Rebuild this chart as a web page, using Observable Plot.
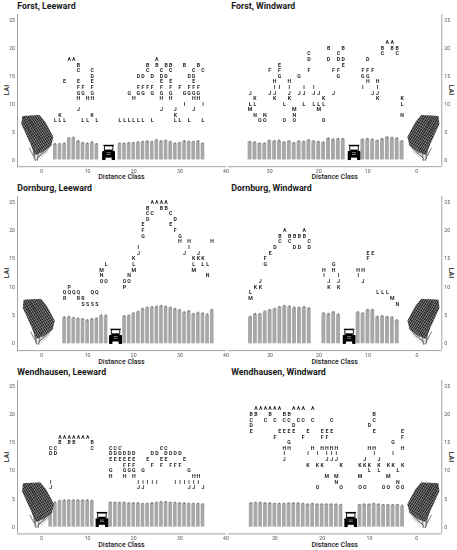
<!DOCTYPE html>
<html><head><meta charset="utf-8">
<script src="https://cdn.jsdelivr.net/npm/d3@7"></script>
<script src="https://cdn.jsdelivr.net/npm/@observablehq/plot@0.6"></script>
<style>
html,body{margin:0;padding:0;background:#fff}
body{width:457px;height:550px;overflow:hidden;position:relative;font-family:Roboto,sans-serif}
.abs{position:absolute;filter:grayscale(1)}
.title{position:absolute;font-weight:700;font-size:8.8px;color:#1a1a1a;white-space:nowrap;transform:translateY(-50%)}
.xl{position:absolute;font-size:7px;font-weight:500;color:#1a1a1a;white-space:nowrap;transform:translate(-50%,-50%)}
.yl{position:absolute;font-size:7px;font-weight:500;color:#1a1a1a;white-space:nowrap}
</style>
</head><body>
<script>
// ---------- data ----------
const titles = ["Forst, Leeward","Forst, Windward","Dornburg, Leeward","Dornburg, Windward","Wendhausen, Leeward","Wendhausen, Windward"];
const xTicksLee = [0,10,20,30,40];
const xTicksWind = [0,10,20,30];
const yTicks = [0,5,10,15,20,25];

// Forst, Leeward
const forstLeeDist = [3,4,5,6,7,8,9,10,11,12,17,18,19,20,21,22,23,24,25,26,27,28,29,30,31,32,33,34,35];
const forstLeeLAI = [2.8,2.8,2.9,3.8,3.9,3.3,3.0,2.9,3.1,2.8, 2.9,2.9,3.0,3.0,3.1,3.2,3.3,3.2,3.5,3.3,3.4,3.2,2.9,3.0,3.3,3.2,3.2,3.3,2.9];
const forstLeeSE = [0.12,0.13,0.12,0.2,0.18,0.17,0.14,0.13,0.16,0.12, 0.12,0.13,0.12,0.13,0.14,0.13,0.15,0.14,0.17,0.14,0.15,0.14,0.13,0.14,0.16,0.14,0.14,0.15,0.13];
const forstLeeLetters = ["L","KL","EL","A","A","BCEFGHJ","FGL","HL","CDEFGHK","L", "L","L","GL","HL","DFGL","DFGL","BCF","DFGL","AB","CDEFGHJ","BD","BCEFGH","JKL","FL","BGI","DFGL","CDEFGHJ","BFGH","CIL"];

// Forst, Windward
const forstWindDist = [3,4,5,6,7,8,9,10,11,15,16,17,18,19,20,21,22,23,24,25,26,27,28,29,30,31,32,33,34];
const forstWindLAI = [3.3,3.8,3.9,4.0,3.7,3.4,3.6,3.7,3.6, 3.7,3.7,3.6,3.8,3.1,3.2,3.3,3.5,3.2,3.3,3.0,3.3,3.1,3.4,3.3,3.4,2.9,2.9,3.1,3.2];
const forstWindSE = [0.14,0.15,0.16,0.15,0.13,0.14,0.15,0.14,0.15, 0.15,0.14,0.15,0.16,0.13,0.14,0.13,0.14,0.15,0.14,0.13,0.14,0.13,0.15,0.14,0.15,0.12,0.13,0.14,0.13];
const forstWindLetters = ["KLN","BC","AB","A","BC","HIJK","FJ","DFGH","FGI", "BDE","CDFG","FJ","BD","KLO","JLM","IJL","CDF","IJL","GJ","MNO","HIJK","LO","EFGI","HIJK","FJ","NO","O","KLN","JLM"];

// Dornburg, Leeward
const dornLeeDist = [5,6,7,8,9,10,11,12,13,14,18,19,20,21,22,23,24,25,26,27,28,29,30,31,32,33,34,35,36,37];
const dornLeeLAI = [4.6,4.7,4.5,4.4,4.3,4.1,4.3,4.4,4.9,4.9, 4.8,4.9,5.3,5.6,6.1,6.3,6.4,6.5,6.6,6.5,6.3,6.1,5.9,5.5,5.7,5.2,5.4,5.3,5.1,5.9];
const dornLeeSE = [0.16,0.17,0.15,0.15,0.14,0.15,0.14,0.15,0.2,0.2, 0.17,0.16,0.16,0.17,0.18,0.17,0.18,0.17,0.18,0.17,0.17,0.18,0.17,0.16,0.17,0.16,0.17,0.16,0.16,0.2];
const dornLeeLetters = ["QR","PQ","Q","QR","RS","S","QS","QS","MNO","LO", "OP","NO","KLM","IJ","EFG","BCD","AC","A","AB","AB","CE","DF","GH","J","HI","KLM","JK","KL","LN","H"];

// Dornburg, Windward
const dornWindDist = [4,5,6,7,8,9,10,11,12,16,17,18,19,22,23,24,25,26,27,28,29,30,31,32,33,34];
const dornWindLAI = [4.1,4.6,4.7,4.8,4.7,5.9,5.9,5.3,5.5, 5.1,5.5,5.2,5.3, 6.2,6.4,6.3,6.3,6.5,6.6,6.4,6.1,5.9,5.6,5.2,5.2,4.7];
const dornWindSE = [0.15,0.16,0.16,0.17,0.16,0.18,0.18,0.17,0.17, 0.17,0.18,0.17,0.17, 0.18,0.18,0.17,0.18,0.17,0.18,0.18,0.17,0.17,0.18,0.16,0.16,0.16];
const dornWindLetters = ["N","M","L","L","L","E","EF","HJ","HI", "IJK","GH","JK","HI", "CD","AB","BD","BD","BC","A","BC","D","E","FG","JK","K","LM"];

// Wendhausen, Leeward
const wendLeeDist = [2,3,4,5,6,7,8,9,10,11,15,16,17,18,19,20,21,22,23,24,25,26,27,28,29,30,31,32,33,34,35];
const wendLeeLAI = [3.6,4.3,4.6,4.7,4.7,4.7,4.7,4.7,4.7,4.6, 4.3,4.3,4.3,4.3,4.2,4.2,4.2,4.1,4.1,4.2,4.3,4.4,4.4,4.3,4.3,4.2,4.2,4.1,4.1,4.1,4.0];
const wendLeeSE = [0.14,0.15,0.14,0.13,0.13,0.13,0.14,0.13,0.13,0.14, 0.13,0.12,0.12,0.13,0.12,0.12,0.13,0.12,0.12,0.13,0.12,0.13,0.13,0.12,0.13,0.12,0.13,0.12,0.12,0.13,0.14];
const wendLeeLetters = ["CDIJ","CD","AB","A","AB","AB","A","A","A","BC", "CDEGH","CDE","CDE","DEFGH","DEFG","DEFGH","IJ","GIJ","EI","DFI","DI","CEF","CDE","DF","DFI","DFI","EI","GIJ","HIJ","HI","J"];

// Wendhausen, Windward
const wendWindDist = [3,4,5,6,7,8,9,10,11,12,16,17,18,19,20,21,22,23,24,25,26,27,28,29,30,31,32,33,34,35];
const wendWindLAI = [3.7,3.9,3.9,3.9,3.9,4.0,4.1,4.0,4.0,3.9, 3.9,4.0,4.0,4.0,4.0,4.0,4.1,4.0,4.1,4.2,4.2,4.2,4.1,4.1,4.1,4.2,4.2,4.3,4.3,4.2];
const wendWindSE = [0.2,0.12,0.12,0.12,0.11,0.12,0.12,0.11,0.12,0.12, 0.12,0.11,0.12,0.12,0.11,0.12,0.12,0.11,0.12,0.12,0.12,0.11,0.12,0.12,0.11,0.12,0.12,0.11,0.12,0.12];
const wendWindLetters = ["EFHKO","LNO","GIK","KMO","O","JKL","BCEHI","DHKL","JKO","KMO", "KO","HIJMN","CEHIJ","EFHIJM","EFHK","IKO","ACH","EIK","ACF","AC","ADE","BCEGH","BCEHIJ","AE","ACF","AB","AC","A","AB","BCDE"];

// LAI level of letter "A" in each panel
const letterTopLevel = [18, 21, 25, 20, 16, 21];
// pictogram anchor positions (distance class)
const treeX = [-0.9, -1.35, -0.6, -1.35, -0.75, -1.4];
const tractorX = [14.55, 12.8, 16.05, 13.85, 13.1, 13.95];

// ---------- pictograms ----------
function treeSvg(mirror){
  const canopy = "M2 1 L19 0 L25 7 L33 22 L31 30 L23 37 L15 40 L11 31 L6 20 L1 9 Z";
  let hatch = "";
  for (let t = -40; t < 60; t += 2.3) hatch += `M${t} 0 L${t + 30} 46 `;
  let hatch2 = "";
  for (let t = 0; t < 90; t += 3.1) hatch2 += `M0 ${t} L34 ${t - 20} `;
  return `<svg xmlns="http://www.w3.org/2000/svg" viewBox="0 0 34 46"><defs><clipPath id="c"><path d="${canopy}"/></clipPath></defs>
<g ${mirror ? 'transform="translate(34,0) scale(-1,1)"' : ''}>
<path d="${canopy}" fill="#1c1c1c"/>
<g clip-path="url(#c)" fill="none"><path d="${hatch}" stroke="#fff" stroke-width="0.4"/><path d="${hatch2}" stroke="#fff" stroke-width="0.25"/></g>
<g stroke="#2a2a2a" stroke-width="0.6" fill="none" stroke-linecap="round"><path d="M15 46 L14 38 L11 30 M17 46 L18 37 L22 32 M16 45 L20 40 L27 33 M14 44 L13 36 M18 42 L25 37 L31 30 M13 41 L9 33 M3 3 L12 22 M8 2 L20 24"/></g>
<g stroke="#888" stroke-width="0.4" fill="none"><path d="M15 43 L23 35 M16 40 L26 32 M12 38 L17 31 M19 44 L28 36"/></g>
</g></svg>`;
}
const tractorSvg = `<svg xmlns="http://www.w3.org/2000/svg" viewBox="0 0 26 31">
<rect x="2.5" y="0" width="21" height="2.8" fill="#000"/>
<rect x="4.6" y="2.6" width="16.8" height="9" fill="none" stroke="#000" stroke-width="1.8"/>
<rect x="6" y="10" width="14" height="16" fill="#000"/>
<rect x="0" y="13" width="7" height="18" rx="2" fill="#000"/>
<rect x="19" y="13" width="7" height="18" rx="2" fill="#000"/>
<rect x="9" y="16" width="8" height="0.9" fill="#fff"/>
<rect x="9" y="19" width="8" height="0.9" fill="#fff"/>
</svg>`;
const uri = s => "data:image/svg+xml;charset=utf-8," + encodeURIComponent(s);

// ---------- layout ----------
const rows = [
  {titleY: 6.2, top: 13.7, bottom: 165.9},
  {titleY: 188, top: 196.0, bottom: 350.1},
  {titleY: 371.7, top: 380.1, bottom: 533.5}
];
const yDomain = [-1.2, 26];
const sets = [
  [forstLeeDist, forstLeeLAI, forstLeeSE, forstLeeLetters],
  [forstWindDist, forstWindLAI, forstWindSE, forstWindLetters],
  [dornLeeDist, dornLeeLAI, dornLeeSE, dornLeeLetters],
  [dornWindDist, dornWindLAI, dornWindSE, dornWindLetters],
  [wendLeeDist, wendLeeLAI, wendLeeSE, wendLeeLetters],
  [wendWindDist, wendWindLAI, wendWindSE, wendWindLetters]
];
const windDomains = [[38.4, -5.1], [38.5, -5.1], [39.8, -5.3]];

function add(el){ document.body.appendChild(el); return el; }
function div(cls, text, css){ const d = document.createElement("div"); d.className = cls; d.textContent = text; Object.assign(d.style, css); return add(d); }

sets.forEach(([dist, lai, se, letters], i) => {
  const row = rows[Math.floor(i/2)];
  const lee = i % 2 === 0;
  const domain = lee ? [-5.2, 40.1] : windDomains[Math.floor(i/2)];
  const bars = dist.map((x, k) => ({x, lai: lai[k], se: se[k]}));
  const lettersData = dist.flatMap((x, k) => [...letters[k]].map(ch => ({x, ch, y: letterTopLevel[i] - (ch.charCodeAt(0) - 65)})));
  const height = row.bottom - row.top + 12;
  const chart = Plot.plot({
    width: 229, height,
    marginTop: 2, marginBottom: 10,
    marginLeft: lee ? 17 : 0, marginRight: lee ? 3 : 15.7,
    style: {fontFamily: "Roboto, sans-serif", fontSize: "5.2px", color: "#555", background: "transparent", overflow: "visible"},
    x: {domain, ticks: lee ? xTicksLee : xTicksWind, tickSize: 0, tickPadding: 2.6, label: null},
    y: {domain: yDomain, ticks: yTicks, tickSize: 0, tickPadding: 2.5, label: null, axis: lee ? "left" : "right"},
    marks: [
      Plot.ruleY([yDomain[0]], {stroke: "#a3a3a3", strokeWidth: 1}),
      Plot.ruleX([lee ? domain[0] : domain[1]], {stroke: "#a3a3a3", strokeWidth: 1}),
      Plot.rectY(bars, {x1: d => d.x - 0.4, x2: d => d.x + 0.4, y: "lai", fill: "#a8a8a8"}),
      Plot.ruleX(bars, {x: "x", y1: d => d.lai - d.se, y2: d => d.lai + d.se, stroke: "#444", strokeWidth: 0.5}),
      Plot.ruleY(bars, {y: d => d.lai + d.se, x1: d => d.x - 0.22, x2: d => d.x + 0.22, stroke: "#444", strokeWidth: 0.5}),
      Plot.text(lettersData, {x: "x", y: "y", text: "ch", fill: "#262626", fontWeight: "bold", fontSize: 5.2, fontFamily: "Roboto, sans-serif"}),
      Plot.image([{x: treeX[i], y: 0}], {x: "x", y: "y", width: 34, height: 46, dy: -22, src: uri(treeSvg(!lee))}),
      Plot.image([{x: tractorX[i], y: 0}], {x: "x", y: "y", width: 13.2, height: 15.6, dy: -7.6, src: uri(tractorSvg)})
    ]
  });
  const wrap = document.createElement("div");
  wrap.className = "abs";
  wrap.style.left = (lee ? 0 : 228) + "px";
  wrap.style.top = (row.top - 2) + "px";
  wrap.appendChild(chart);
  add(wrap);

  div("title", titles[i], {left: (lee ? 17.3 : 231.3) + "px", top: row.titleY + "px"});
  div("xl", "Distance Class", {left: (lee ? 121.5 : 334.7) + "px", top: (row.bottom + 11.5) + "px"});
  const yl = div("yl", "LAI", {left: (lee ? 6.7 : 450.7) + "px", top: ((row.top + row.bottom)/2) + "px"});
  yl.style.transform = `translate(-50%,-50%) rotate(${lee ? -90 : 90}deg)`;
});
</script>
</body></html>
